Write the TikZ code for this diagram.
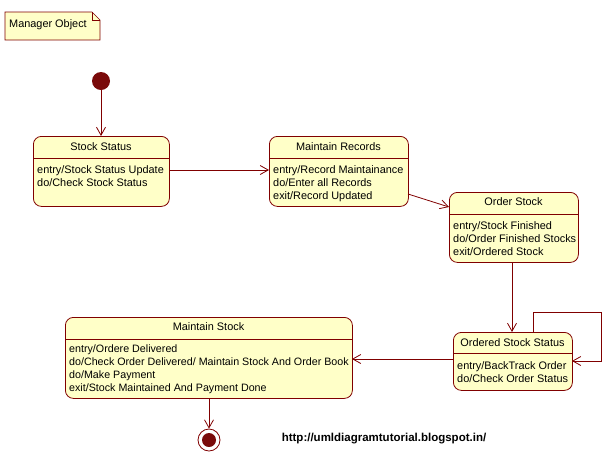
\documentclass[tikz,border=0pt]{standalone}
\usepackage{fontspec}
\setmainfont{Liberation Sans}
\usetikzlibrary{arrows.meta}
\definecolor{lineR}{HTML}{800000}
\definecolor{fillY}{HTML}{FFFFC8}
\definecolor{dotR}{HTML}{7A0A0A}
\begin{document}
\begin{tikzpicture}[x=1pt,y=-1pt,
  statebox/.style={draw=lineR, fill=fillY, rounded corners=8pt, line width=0.8pt, anchor=north west, inner sep=0pt},
  sepline/.style={draw=lineR, line width=0.8pt},
  titletext/.style={font=\fontsize{10.9}{13}\selectfont, inner sep=0pt},
  bodytext/.style={font=\fontsize{10.9}{13}\selectfont, align=left, anchor=north west, inner sep=0pt},
  conn/.style={draw=lineR, line width=0.8pt, -{Straight Barb[length=8pt,width=9pt]}}
]
\useasboundingbox (0,0) rectangle (613,459);
% note
\draw[draw=lineR, fill=fillY, line width=0.7pt] (5,12) -- (92,12) -- (100,20) -- (100,40) -- (5,40) -- cycle;
\draw[draw=lineR, line width=0.7pt] (92,12) -- (92,20) -- (100,20);
\node[font=\fontsize{10.9}{12}\selectfont, anchor=west, inner sep=0pt] (note) at (9,25) {Manager Object};
% initial
\node[circle, fill=dotR, minimum size=18pt, inner sep=0pt] (init) at (101,81) {};
% Stock Status
\node[statebox, minimum width=136pt, minimum height=70pt] (ss) at (33,136) {};
\draw[sepline] (33,158) -- (169,158);
\node[titletext] (sst) at (101,147) {Stock Status};
\node[bodytext] (ssb) at (37,165.5) {entry/Stock Status Update\\do/Check Stock Status};
% Maintain Records
\node[statebox, minimum width=139pt, minimum height=70pt] (mr) at (269,136) {};
\draw[sepline] (269,158) -- (408,158);
\node[titletext] (mrt) at (338.5,147) {Maintain Records};
\node[bodytext] (mrb) at (273,165.5) {entry/Record Maintainance\\do/Enter all Records\\exit/Record Updated};
% Order Stock
\node[statebox, minimum width=129pt, minimum height=70pt] (os) at (449,192) {};
\draw[sepline] (449,214) -- (578,214);
\node[titletext] (ost) at (513.5,202) {Order Stock};
\node[bodytext] (osb) at (453,221.5) {entry/Stock Finished\\do/Order Finished Stocks\\exit/Ordered Stock};
% Ordered Stock Status
\node[statebox, minimum width=119pt, minimum height=58pt] (oss) at (453,332) {};
\draw[sepline] (453,353) -- (572,353);
\node[titletext] (osst) at (512.5,343) {Ordered Stock Status};
\node[bodytext] (ossb) at (457,361.5) {entry/BackTrack Order\\do/Check Order Status};
% Maintain Stock
\node[statebox, minimum width=287pt, minimum height=81pt] (ms) at (65,317) {};
\draw[sepline] (65,339) -- (352,339);
\node[titletext] (mst) at (208.5,327) {Maintain Stock};
\node[bodytext, font=\fontsize{10.7}{13}\selectfont] (msb) at (69,344.5) {entry/Ordere Delivered\\do/Check Order Delivered/ Maintain Stock And Order Book\\do/Make Payment\\exit/Stock Maintained And Payment Done};
% final
\node[circle, draw=lineR, fill=white, line width=0.8pt, minimum size=22pt, inner sep=0pt] (fin) at (209,440) {};
\node[circle, fill=dotR, minimum size=14pt, inner sep=0pt] (finin) at (209,440) {};
% url
\node[font=\fontsize{11.5}{13}\selectfont\bfseries, inner sep=0pt] (url) at (384,439) {http://umldiagramtutorial.blogspot.in/};
% connectors
\coordinate (c1) at (101,136);
\draw[conn] (init) -- (c1);
\draw[conn] (169,170) -- (269,170);
\draw[conn] (408,194) -- (449,207);
\draw[conn] (512,262) -- (512,332);
\draw[conn] (533,332) -- (533,312) -- (601,312) -- (601,361) -- (572,361);
\draw[conn] (453,359) -- (352,359);
\draw[conn] (209,398) -- (fin.north);
\end{tikzpicture}
\end{document}
